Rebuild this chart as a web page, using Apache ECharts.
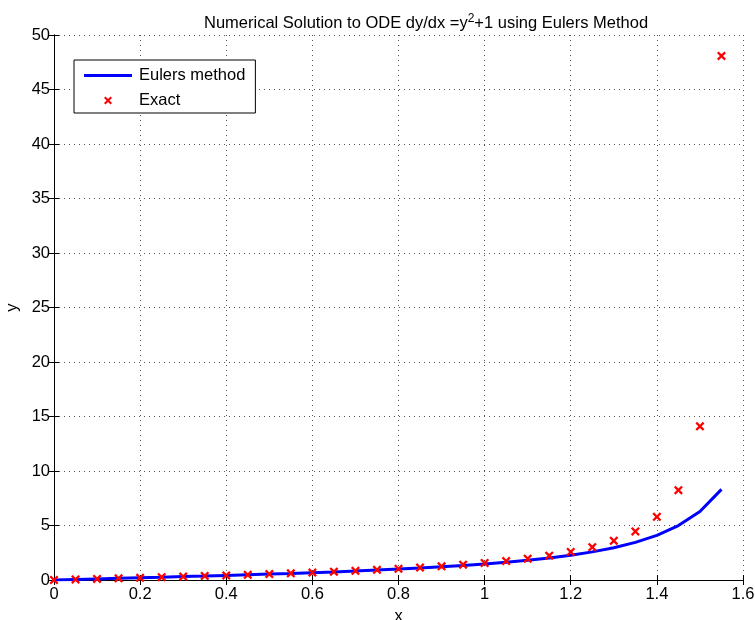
<!DOCTYPE html>
<html>
<head>
<meta charset="utf-8">
<script src="https://cdn.jsdelivr.net/npm/echarts@6/dist/echarts.min.js"></script>
<style>
  html, body { margin: 0; padding: 0; background: #fff; }
  #chart { width: 755px; height: 620px; }
</style>
</head>
<body>
<div id="chart"></div>
<script>
// Step positions, h = 0.05
const xValues = [0, 0.05, 0.1, 0.15, 0.2, 0.25, 0.3, 0.35, 0.4, 0.45, 0.5, 0.55, 0.6, 0.65, 0.7, 0.75,
  0.8, 0.85, 0.9, 0.95, 1.0, 1.05, 1.1, 1.15, 1.2, 1.25, 1.3, 1.35, 1.4, 1.45, 1.5, 1.55];
// Euler approximation
const eulerValues = [0, 0.05, 0.10, 0.15, 0.20, 0.25, 0.31, 0.36, 0.42, 0.48, 0.54, 0.60, 0.67, 0.74, 0.82, 0.91,
  1.00, 1.10, 1.21, 1.33, 1.47, 1.62, 1.81, 2.02, 2.27, 2.58, 2.96, 3.45, 4.10, 4.99, 6.28, 8.31];
// Exact solution
const exactValues = [0, 0.05, 0.10, 0.15, 0.20, 0.26, 0.31, 0.37, 0.42, 0.48, 0.55, 0.61, 0.68, 0.76, 0.84, 0.93,
  1.03, 1.14, 1.26, 1.40, 1.56, 1.74, 1.96, 2.23, 2.57, 3.01, 3.60, 4.46, 5.80, 8.24, 14.10, 48.08];

const xTicks = { min: 0, max: 1.6, step: 0.2 };
const yTicks = { min: 0, max: 50, step: 5 };

const crossPath = 'path://M0,1.8 L1.8,0 L5,3.2 L8.2,0 L10,1.8 L6.8,5 L10,8.2 L8.2,10 L5,6.8 L1.8,10 L0,8.2 L3.2,5 Z';
const lineIconPath = 'path://M0,0 L48,0 L48,3 L0,3 Z';
const fontFamily = '"Liberation Sans", Arial, Helvetica, sans-serif';
const fs = 16.5;

const gridLine = { show: true, lineStyle: { color: '#555', type: [1, 4], width: 1 } };
const tick = { show: true, inside: true, length: 5, lineStyle: { color: '#000' } };
const axLine = { show: true, lineStyle: { color: '#000', width: 1 } };

const chart = echarts.init(document.getElementById('chart'), null, { renderer: 'canvas' });
chart.setOption({
  backgroundColor: '#fff',
  animation: false,
  textStyle: { fontFamily: fontFamily },
  title: {
    text: '{a|Numerical Solution to ODE dy/dx =y}{s|2}{a|+1 using Eulers Method}',
    left: 199,
    top: 8,
    textStyle: {
      fontWeight: 'normal',
      rich: {
        a: { fontSize: fs, color: '#000', fontFamily: fontFamily, fontWeight: 'normal' },
        s: { fontSize: 12, color: '#000', fontFamily: fontFamily, fontWeight: 'normal', verticalAlign: 'top', padding: [0, 0, 9, 0] }
      }
    }
  },
  grid: { left: 54, right: 12, top: 35, bottom: 40, containLabel: false, outerBoundsMode: 'none' },
  legend: {
    orient: 'vertical',
    left: 74,
    top: 60,
    padding: [7, 10, 4, 10],
    itemGap: 8,
    itemWidth: 48,
    itemHeight: 8,
    borderColor: '#000',
    borderWidth: 1,
    backgroundColor: '#fff',
    textStyle: { fontSize: fs, color: '#000', fontFamily: fontFamily, padding: [0, 0, 0, 2] },
    data: [
      { name: 'Eulers method', icon: lineIconPath },
      { name: 'Exact', icon: crossPath }
    ]
  },
  xAxis: [
    {
      type: 'value', min: xTicks.min, max: xTicks.max, interval: xTicks.step,
      name: 'x', nameLocation: 'middle', nameGap: 28,
      nameTextStyle: { fontSize: fs, color: '#000' },
      axisLine: axLine, axisTick: tick, splitLine: gridLine,
      axisLabel: { fontSize: fs, color: '#000', margin: 6,
        formatter: v => String(Math.round(v * 10) / 10) }
    },
    {
      type: 'value', position: 'top', min: xTicks.min, max: xTicks.max, interval: xTicks.step,
      axisLine: axLine, axisTick: tick, splitLine: { show: false }, axisLabel: { show: false }
    }
  ],
  yAxis: [
    {
      type: 'value', min: yTicks.min, max: yTicks.max, interval: yTicks.step,
      name: 'y', nameLocation: 'middle', nameGap: 31,
      nameTextStyle: { fontSize: fs, color: '#000' },
      axisLine: axLine, axisTick: tick, splitLine: gridLine,
      axisLabel: { fontSize: fs, color: '#000', margin: 4 }
    },
    {
      type: 'value', position: 'right', min: yTicks.min, max: yTicks.max, interval: yTicks.step,
      axisLine: axLine, axisTick: tick, splitLine: { show: false }, axisLabel: { show: false }
    }
  ],
  series: [
    {
      name: 'Eulers method',
      type: 'line',
      data: xValues.map((x, i) => [x, eulerValues[i]]),
      symbol: 'none',
      lineStyle: { color: '#0000ff', width: 3 },
      itemStyle: { color: '#0000ff' },
      z: 2
    },
    {
      name: 'Exact',
      type: 'scatter',
      data: xValues.map((x, i) => [x, exactValues[i]]),
      symbol: crossPath,
      symbolSize: 9,
      itemStyle: { color: '#ff0000', opacity: 1 },
      z: 3
    }
  ]
});
</script>
</body>
</html>
